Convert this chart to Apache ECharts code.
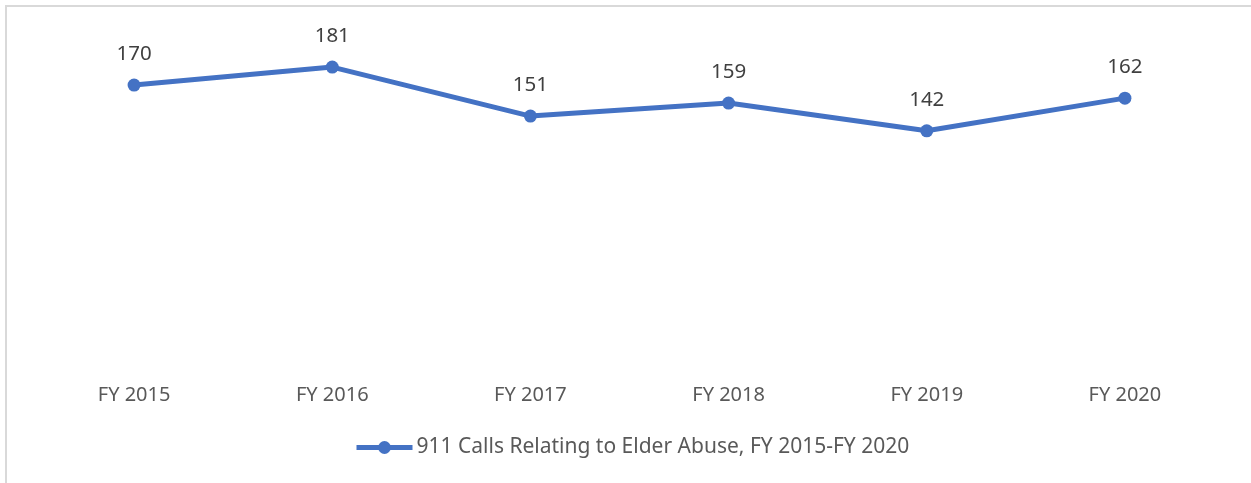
<!DOCTYPE html>
<html>
<head>
<meta charset="utf-8">
<script src="https://cdn.jsdelivr.net/npm/echarts@6/dist/echarts.min.js"></script>
<style>
  html, body { margin: 0; padding: 0; background: #fff; }
  #chart { width: 1251px; height: 483px; }
</style>
</head>
<body>
<div id="chart"></div>
<script>
const categories = ['FY 2015', 'FY 2016', 'FY 2017', 'FY 2018', 'FY 2019', 'FY 2020'];
const calls = [170, 181, 151, 159, 142, 162];
const seriesName = '911 Calls Relating to Elder Abuse, FY 2015-FY 2020';

const chart = echarts.init(document.getElementById('chart'));
const font = '"Noto Sans", "Open Sans", sans-serif';

const option = {
  animation: false,
  // outer frame of the original chart area
  graphic: [{
    type: 'rect',
    shape: { x: 6, y: 6, width: 1400, height: 600 },
    style: { fill: 'none', stroke: '#d9d9d9', lineWidth: 2 },
    silent: true
  }],
  grid: { left: 35, right: 27, top: 36, bottom: 120 },
  legend: {
    data: [seriesName],
    bottom: 25,
    left: 354,
    padding: 0,
    itemWidth: 56,
    itemHeight: 16,
    itemStyle: { color: '#4472c4' },
    lineStyle: { color: '#4472c4', width: 5 },
    textStyle: { fontFamily: font, fontSize: 21, color: '#595959', padding: [0, 0, 0, -1] }
  },
  xAxis: {
    type: 'category',
    data: categories,
    boundaryGap: true,
    axisLine: { show: false },
    axisTick: { show: false },
    axisLabel: { margin: 22, fontFamily: font, fontSize: 20, color: '#595959' }
  },
  yAxis: {
    type: 'value',
    min: 0,
    max: 200,
    interval: 20,
    show: false,
    splitLine: { show: false }
  },
  series: [{
    name: seriesName,
    type: 'line',
    data: calls,
    symbol: 'circle',
    symbolSize: 13,
    itemStyle: { color: '#4472c4' },
    lineStyle: { color: '#4472c4', width: 5 },
    label: {
      show: true,
      position: 'top',
      distance: 14,
      fontFamily: font,
      fontSize: 20.5,
      color: '#404040'
    }
  }]
};

chart.setOption(option);
window.addEventListener('resize', () => chart.resize());
</script>
</body>
</html>
